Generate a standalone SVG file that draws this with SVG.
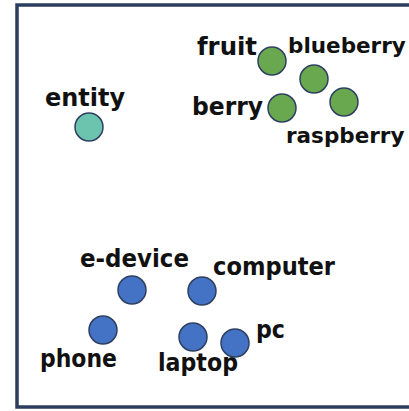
<svg xmlns="http://www.w3.org/2000/svg" width="409" height="411" viewBox="0 0 409 411">
<style>
.lbl{font-family:"DejaVu Sans","Liberation Sans",sans-serif;font-weight:bold;font-size:24px;fill:#111;}
.edge{font-size:21.5px;}
.n{stroke:#2e4060;stroke-width:1.5;}
.g{fill:#6aa84f;}
.t{fill:#6cc3ae;}
.b{fill:#4472c4;}
</style>
<rect x="0" y="0" width="409" height="411" fill="#ffffff"/>
<rect id="frame" x="17" y="5" width="400" height="402" fill="#ffffff" stroke="#2b3e60" stroke-width="3.5"/>
<g id="connectors"></g>
<g id="entity"><circle class="n t" cx="89" cy="127" r="14"/><text class="lbl" x="45" y="106" textLength="80" lengthAdjust="spacingAndGlyphs">entity</text></g>
<g id="fruit"><circle class="n g" cx="272" cy="61" r="14"/><text class="lbl" x="197" y="55" textLength="60" lengthAdjust="spacingAndGlyphs">fruit</text></g>
<g id="blueberry"><circle class="n g" cx="314" cy="79" r="14"/><text class="lbl edge" x="288" y="53">blueberry</text></g>
<g id="berry"><circle class="n g" cx="282" cy="108" r="14"/><text class="lbl" x="192" y="115" textLength="71" lengthAdjust="spacingAndGlyphs">berry</text></g>
<g id="raspberry"><circle class="n g" cx="344" cy="102" r="14"/><text class="lbl edge" x="286" y="143">raspberry</text></g>
<g id="e-device"><circle class="n b" cx="132" cy="290" r="14"/><text class="lbl" x="80" y="267" textLength="109" lengthAdjust="spacingAndGlyphs">e-device</text></g>
<g id="computer"><circle class="n b" cx="202" cy="291" r="14"/><text class="lbl" x="213" y="275" textLength="122" lengthAdjust="spacingAndGlyphs">computer</text></g>
<g id="phone"><circle class="n b" cx="103" cy="330" r="14"/><text class="lbl" x="40" y="367" textLength="77" lengthAdjust="spacingAndGlyphs">phone</text></g>
<g id="laptop"><circle class="n b" cx="193" cy="337" r="14"/><text class="lbl" x="158" y="371" textLength="80" lengthAdjust="spacingAndGlyphs">laptop</text></g>
<g id="pc"><circle class="n b" cx="235" cy="343" r="14"/><text class="lbl" x="256" y="338" textLength="29" lengthAdjust="spacingAndGlyphs">pc</text></g>
</svg>
